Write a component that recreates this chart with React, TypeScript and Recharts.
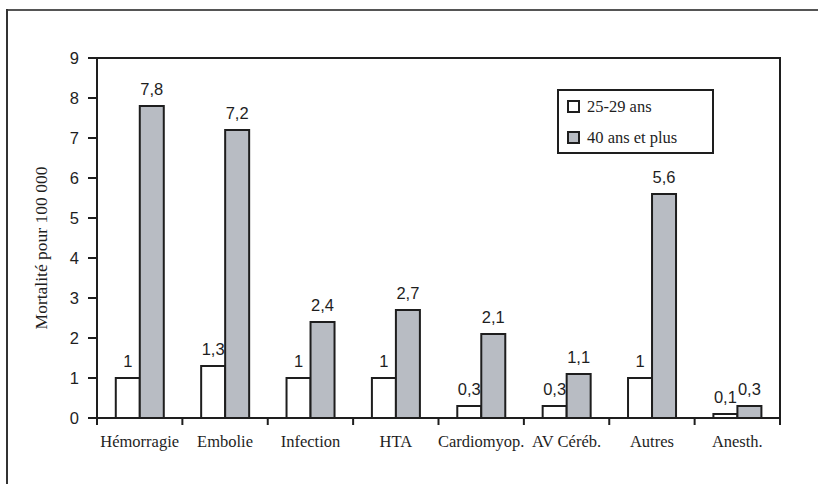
import React from 'react';
import {
  BarChart,
  Bar,
  XAxis,
  YAxis,
  LabelList,
  Label,
  ReferenceArea,
} from 'recharts';

const causes = ['Hémorragie', 'Embolie', 'Infection', 'HTA', 'Cardiomyop.', 'AV Céréb.', 'Autres', 'Anesth.'];
const young = [1, 1.3, 1, 1, 0.3, 0.3, 1, 0.1];
const older = [7.8, 7.2, 2.4, 2.7, 2.1, 1.1, 5.6, 0.3];
const yTicks = [0, 1, 2, 3, 4, 5, 6, 7, 8, 9];

const SERIES = [
  { key: 'young', name: '25-29 ans', fill: '#ffffff' },
  { key: 'older', name: '40 ans et plus', fill: '#b8bcc3' },
];

const data = causes.map((cause, i) => ({ cause, young: young[i], older: older[i] }));

const W = 818;
const H = 484;
const PLOT_LEFT = 97;
const PLOT_RIGHT = 780;
const PLOT_TOP = 58;
const PLOT_BOTTOM = 418;
const BAND = (PLOT_RIGHT - PLOT_LEFT) / causes.length;
const FRAME_X = 7;
const FRAME_Y = 10;

const SERIF = '"Liberation Serif", "Times New Roman", serif';
const SANS = '"Liberation Sans", Arial, sans-serif';
const INK = '#1e1e1e';

const fmt = (v: number) => String(v).replace('.', ',');

// category label plus the boundary tick marks on the left (and right for the last one)
const CategoryTick = (props: any) => {
  const { x, payload, index } = props;
  const left = x - BAND / 2;
  return (
    <g>
      <line x1={left} x2={left} y1={PLOT_BOTTOM} y2={PLOT_BOTTOM + 7} stroke={INK} strokeWidth={2} />
      {index === causes.length - 1 && (
        <line x1={x + BAND / 2} x2={x + BAND / 2} y1={PLOT_BOTTOM} y2={PLOT_BOTTOM + 7} stroke={INK} strokeWidth={2} />
      )}
      <text x={x} y={PLOT_BOTTOM + 29} textAnchor="middle" fontFamily={SERIF} fontSize={16.5} fill={INK}>
        {payload.value}
      </text>
    </g>
  );
};

const LegendBox = () => (
  <div
    style={{
      position: 'absolute',
      left: 557,
      top: 89,
      width: 157,
      height: 65,
      border: `2px solid ${INK}`,
      background: '#fff',
      boxSizing: 'border-box',
      fontFamily: SERIF,
      fontSize: 16.5,
      color: INK,
      padding: '0 0 0 8px',
    }}
  >
    {SERIES.map((s) => (
      <div key={s.key} style={{ display: 'flex', alignItems: 'center', height: 31 }}>
        <span
          style={{
            display: 'inline-block',
            width: 9,
            height: 9,
            border: `2px solid ${INK}`,
            background: s.fill,
            marginRight: 7,
          }}
        />
        {s.name}
      </div>
    ))}
  </div>
);

export default function App() {
  return (
    <>
      <style>{'html, body { margin: 0; padding: 0; overflow: hidden; }'}</style>
      <div style={{ position: 'relative', width: W, height: H, overflow: 'hidden', background: '#fff' }}>
        <BarChart
          width={W}
          height={H}
          data={data}
          margin={{ top: PLOT_TOP, right: W - PLOT_RIGHT, bottom: H - PLOT_BOTTOM - 40, left: PLOT_LEFT - 60 }}
          barCategoryGap="22%"
          barGap={0}
        >
          <ReferenceArea y1={0} y2={9} fill="none" stroke={INK} strokeWidth={2} ifOverflow="visible" />
          <XAxis
            dataKey="cause"
            height={40}
            axisLine={{ stroke: INK, strokeWidth: 2 }}
            tickLine={false}
            interval={0}
            tick={<CategoryTick />}
          />
          <YAxis
            width={60}
            domain={[0, 9]}
            ticks={yTicks}
            interval={0}
            axisLine={{ stroke: INK, strokeWidth: 2 }}
            tickLine={{ stroke: INK, strokeWidth: 2 }}
            tickSize={9}
            tickMargin={9}
            tick={{ fontFamily: SANS, fontSize: 16.5, fill: INK }}
          >
            <Label
              value="Mortalité pour 100 000"
              angle={-90}
              position="insideLeft"
              offset={4}
              dy={10}
              style={{ textAnchor: 'middle', fontFamily: SERIF, fontSize: 17.5, fill: INK }}
            />
          </YAxis>
          {SERIES.map((s) => (
            <Bar
              key={s.key}
              dataKey={s.key}
              name={s.name}
              fill={s.fill}
              stroke={INK}
              strokeWidth={2}
              isAnimationActive={false}
            >
              <LabelList
                dataKey={s.key}
                position="top"
                offset={11}
                formatter={(v: any) => fmt(v)}
                style={{ fontFamily: SANS, fontSize: 16.5, fill: INK }}
              />
            </Bar>
          ))}
        </BarChart>
        <LegendBox />
        {/* outer frame of the figure: left and top edges */}
        <div style={{ position: 'absolute', left: FRAME_X - 1, top: FRAME_Y - 1, width: W, height: 2, background: '#555' }} />
        <div style={{ position: 'absolute', left: FRAME_X - 1, top: FRAME_Y - 1, width: 2, height: H, background: '#333' }} />
      </div>
    </>
  );
}
